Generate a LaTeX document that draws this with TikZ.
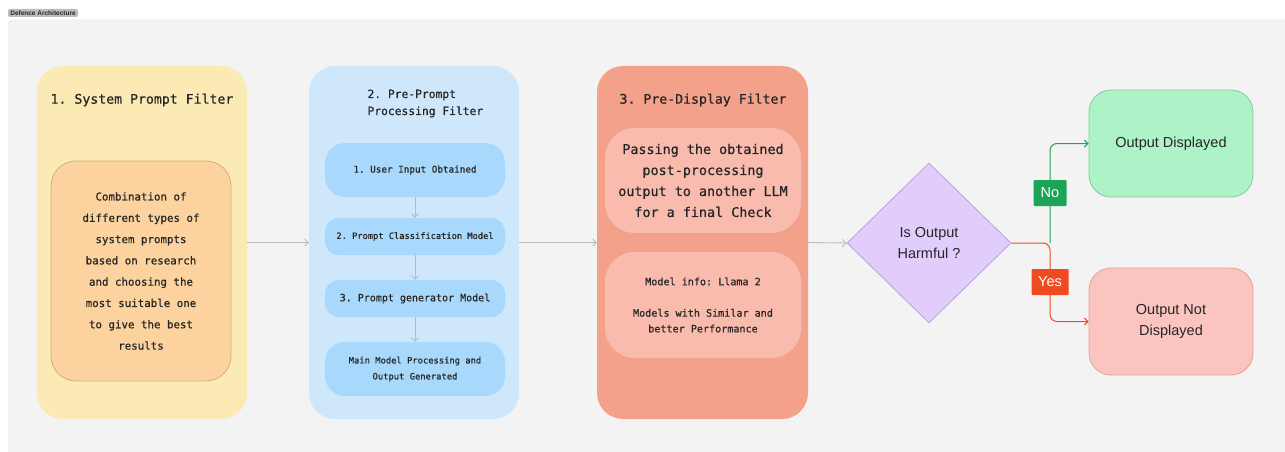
\documentclass[tikz,border=0pt]{standalone}
\usepackage{xcolor}
\usepackage{fontspec}
\setmainfont{Liberation Sans}
\setmonofont{DejaVu Sans Mono}[FakeBold=0.6]
\usepackage{tikz}
\usetikzlibrary{arrows.meta,shapes.geometric,positioning}
\definecolor{CanvasGray}{HTML}{F3F3F3}
\definecolor{CanvasLine}{HTML}{DDDDDD}
\definecolor{TagGray}{HTML}{BDBDBD}
\definecolor{SysYellow}{HTML}{FBEAB4}
\definecolor{SysOrange}{HTML}{FCD29E}
\definecolor{SysOrangeLine}{HTML}{D6AD80}
\definecolor{PreBlue}{HTML}{CFE7FB}
\definecolor{PreBlueInner}{HTML}{A8D8FB}
\definecolor{DispRed}{HTML}{F3A18B}
\definecolor{DispRedInner}{HTML}{F9BBAE}
\definecolor{CheckPurple}{HTML}{E1CDFB}
\definecolor{CheckPurpleLine}{HTML}{B8A2DC}
\definecolor{ShowGreen}{HTML}{AEF2C8}
\definecolor{ShowGreenLine}{HTML}{82CC9B}
\definecolor{HideRed}{HTML}{FCC4BE}
\definecolor{HideRedLine}{HTML}{E0A29B}
\definecolor{NoGreen}{HTML}{1DA557}
\definecolor{YesRed}{HTML}{EF4A22}
\definecolor{ArrowGray}{HTML}{BBBBBB}
\definecolor{InkDark}{HTML}{262626}

\tikzset{
  stage/.style={rounded corners=26pt, minimum width=210pt, minimum height=353pt, inner sep=0pt},
  stagetitle/.style={font=\ttfamily\fontsize{13.2}{21}\selectfont, text=InkDark, align=center},
  inbox/.style={rounded corners=20pt, minimum width=180pt, inner sep=0pt, align=center,
                text=InkDark},
  outbox/.style={rounded corners=22pt, minimum width=164pt, minimum height=107pt, line width=0.8pt,
                 font=\fontsize{14.5}{21}\selectfont, text=InkDark, align=center},
  flow/.style={draw=ArrowGray, line width=0.9pt, -{Straight Barb[length=3.5pt,width=7pt]}},
  branch/.style={line width=1pt, rounded corners=7pt, -{Straight Barb[length=3.5pt,width=7pt]}},
  answer/.style={text=white, font=\fontsize{14.5}{16}\selectfont, minimum height=26pt, inner sep=0pt,
                 rounded corners=1pt}
}

\begin{document}
\begin{tikzpicture}[x=1pt, y=-1pt]
  \useasboundingbox (0,0) rectangle (1285,452);

  % canvas with its tag
  \draw[draw=CanvasLine, fill=CanvasGray, rounded corners=5pt] (8,20) rectangle (1330,490);
  \node[fill=TagGray, rounded corners=2pt, minimum width=70pt, minimum height=8pt, inner sep=0pt,
        font=\bfseries\fontsize{6.5}{7}\selectfont, text=InkDark] (tag) at (43,13) {Defence Architecture};

  % three filter stages
  \node[stage, fill=SysYellow] (sys) at (142,242.5) {};
  \node[stage, fill=PreBlue] (pre) at (414,242.5) {};
  \node[stage, fill=DispRed, minimum width=211pt] (disp) at (702.5,242.5) {};

  \node[stagetitle] (systitle) at (142,100) {1. System Prompt Filter};
  \node[stagetitle, font=\ttfamily\fontsize{11.3}{17}\selectfont, align=left, anchor=west]
    (pretitle) at (364,103.5) {2. Pre-Prompt\\Processing Filter};
  \node[stagetitle] (disptitle) at (703,100) {3. Pre-Display Filter};

  % stage 1
  \node[inbox, fill=SysOrange, draw=SysOrangeLine, line width=0.8pt, rounded corners=25pt,
        minimum height=220pt, font=\ttfamily\fontsize{10.8}{21.3}\selectfont]
    (sysbody) at (141,271) {Combination of\\different types of\\system prompts\\based on research\\and choosing the\\most suitable one\\to give the best\\results};

  % stage 2
  \node[inbox, fill=PreBlueInner, minimum height=54pt, font=\ttfamily\fontsize{9.3}{12}\selectfont]
    (input) at (415,170) {1. User Input Obtained};
  \node[inbox, fill=PreBlueInner, minimum height=37pt, rounded corners=14pt,
        font=\ttfamily\fontsize{8.7}{12}\selectfont]
    (classify) at (415,236.5) {2. Prompt Classification Model};
  \node[inbox, fill=PreBlueInner, minimum height=37pt, rounded corners=14pt,
        font=\ttfamily\fontsize{10}{12}\selectfont]
    (generate) at (415,298.5) {3. Prompt generator Model};
  \node[inbox, fill=PreBlueInner, minimum height=54pt, font=\ttfamily\fontsize{8.8}{16}\selectfont]
    (mainmodel) at (415,369) {Main Model Processing and\\Output Generated};

  \draw[flow] (input) -- (classify);
  \draw[flow] (classify) -- (generate);
  \draw[flow] (generate) -- (mainmodel);

  % stage 3
  \node[inbox, fill=DispRedInner, minimum width=196pt, minimum height=105pt, rounded corners=30pt,
        font=\ttfamily\fontsize{13.4}{21}\selectfont]
    (recheck) at (703,180.5) {Passing the obtained\\post-processing\\output to another LLM\\for a final Check};
  \node[inbox, fill=DispRedInner, minimum width=196pt, minimum height=106pt, rounded corners=30pt,
        font=\ttfamily\fontsize{10.1}{15.7}\selectfont]
    (llama) at (703,305) {Model info: Llama 2\\[15.7pt]Models with Similar and\\better Performance};

  % decision
  \node[diamond, fill=CheckPurple, draw=CheckPurpleLine, line width=0.8pt, inner sep=0pt,
        minimum width=164pt, minimum height=160pt, align=center, text=InkDark,
        font=\fontsize{14.5}{21}\selectfont] (harm) at (929,243) {Is Output\\Harmful ?};

  \node[outbox, fill=ShowGreen, draw=ShowGreenLine] (shown) at (1171,143.5) {Output Displayed};
  \node[outbox, fill=HideRed, draw=HideRedLine] (hidden) at (1171,321.5) {Output Not\\Displayed};

  \draw[flow] (sys) -- (pre);
  \draw[flow] (pre) -- (disp);
  \draw[flow] (disp.east) -- (harm.west);

  \coordinate (fork) at (1050,243);
  \draw[branch, NoGreen] (fork) |- (shown.west);
  \draw[branch, YesRed] (harm.east) -- (fork) |- (hidden.west);

  \node[answer, fill=NoGreen, minimum width=33pt] (no) at (1050,193) {No};
  \node[answer, fill=YesRed, minimum width=37pt] (yes) at (1050,282) {Yes};
\end{tikzpicture}
\end{document}
